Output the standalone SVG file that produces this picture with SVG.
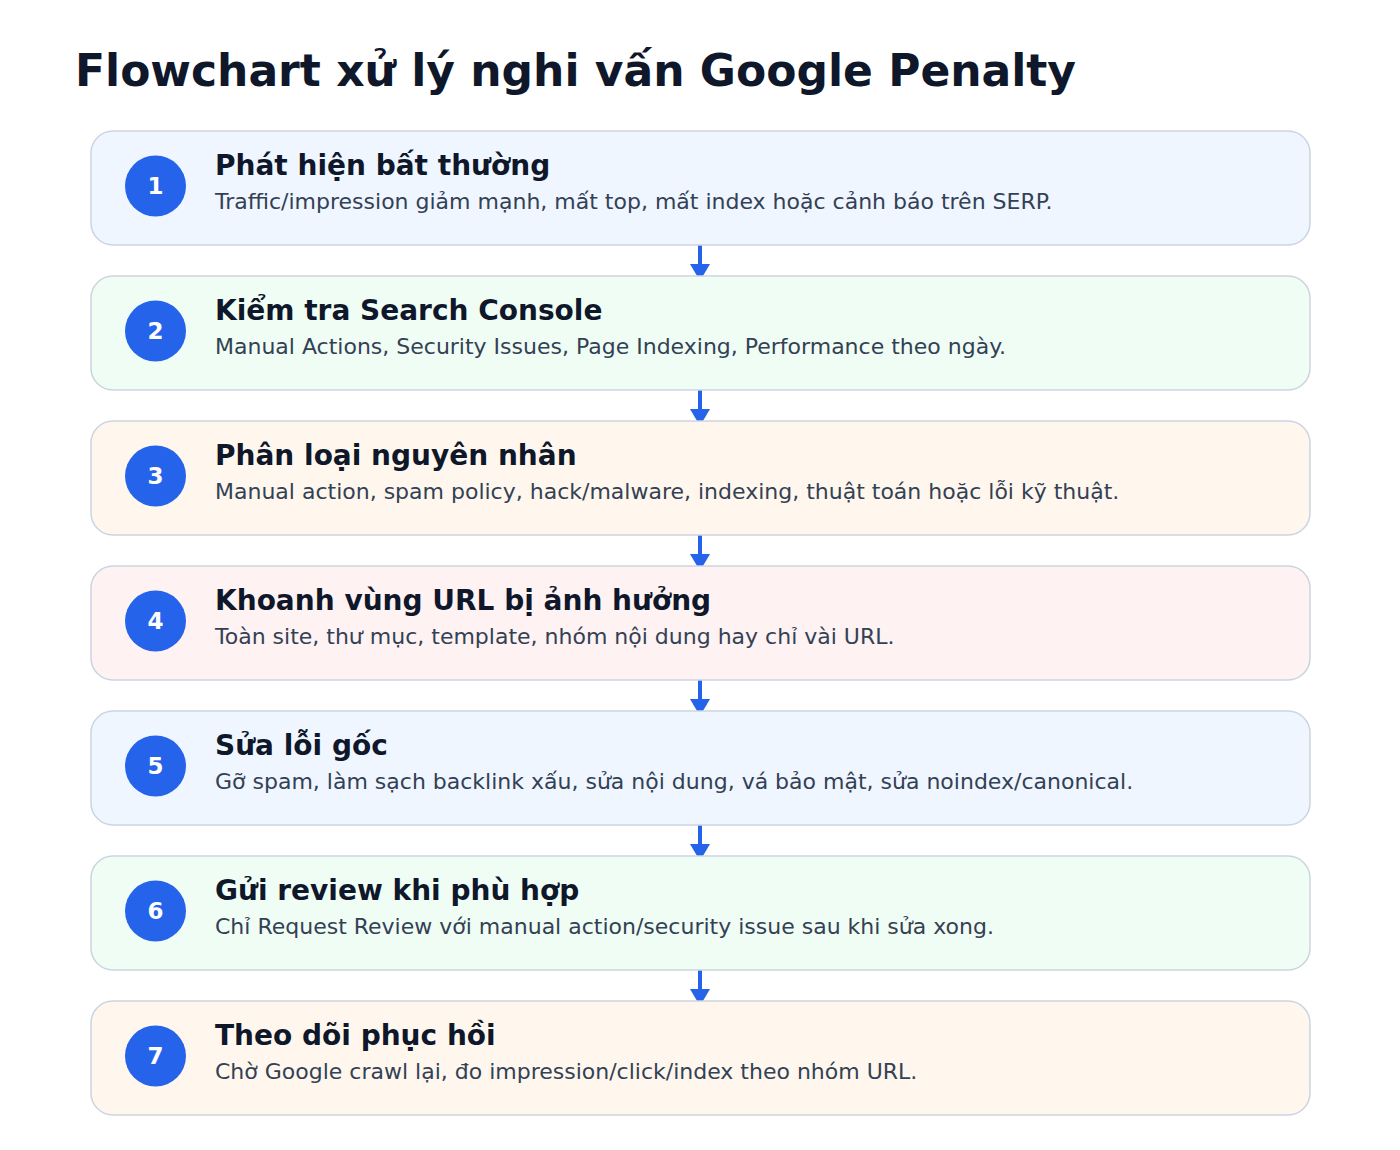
<svg xmlns="http://www.w3.org/2000/svg" width="1400" height="1150" viewBox="0 0 1400 1150">
<defs>
<style>
.title{font-family:"DejaVu Sans",sans-serif;font-weight:bold;font-size:44px;fill:#0f172a}
.box{stroke:#cbd5e1;stroke-width:1.5}
.b1{fill:#eff6ff}.b2{fill:#f0fdf4}.b3{fill:#fff7ed}.b4{fill:#fef2f2}
.circ{fill:#2563eb}
.num{font-family:"DejaVu Sans",sans-serif;font-weight:bold;font-size:23px;fill:#ffffff;text-anchor:middle}
.h{font-family:"DejaVu Sans",sans-serif;font-weight:bold;font-size:28px;fill:#0f172a}
.d{font-family:"DejaVu Sans",sans-serif;font-size:22px;fill:#334155}
.conn{stroke:#2563eb;stroke-width:4;fill:none}
.head{fill:#2563eb}
</style>
</defs>
<rect width="1400" height="1150" fill="#ffffff"/>
<text class="title" x="75" y="86">Flowchart xử lý nghi vấn Google Penalty</text>
<g id="connectors">
<line class="conn" x1="700" y1="245" x2="700" y2="266"/><polygon class="head" points="690,264 710,264 700,281"/>
<line class="conn" x1="700" y1="390" x2="700" y2="411"/><polygon class="head" points="690,409 710,409 700,426"/>
<line class="conn" x1="700" y1="535" x2="700" y2="556"/><polygon class="head" points="690,554 710,554 700,571"/>
<line class="conn" x1="700" y1="680" x2="700" y2="701"/><polygon class="head" points="690,699 710,699 700,716"/>
<line class="conn" x1="700" y1="825" x2="700" y2="846"/><polygon class="head" points="690,844 710,844 700,861"/>
<line class="conn" x1="700" y1="970" x2="700" y2="991"/><polygon class="head" points="690,989 710,989 700,1006"/>
</g>
<g id="node1">
<rect class="box b1" x="91" y="131" width="1219" height="114" rx="22"/>
<circle class="circ" cx="155.5" cy="186" r="30.5"/>
<text class="num" x="155.5" y="194">1</text>
<text class="h" x="215" y="175">Phát hiện bất thường</text>
<text class="d" x="215" y="209">Traffic/impression giảm mạnh, mất top, mất index hoặc cảnh báo trên SERP.</text>
</g>
<g id="node2">
<rect class="box b2" x="91" y="276" width="1219" height="114" rx="22"/>
<circle class="circ" cx="155.5" cy="331" r="30.5"/>
<text class="num" x="155.5" y="339">2</text>
<text class="h" x="215" y="320">Kiểm tra Search Console</text>
<text class="d" x="215" y="354">Manual Actions, Security Issues, Page Indexing, Performance theo ngày.</text>
</g>
<g id="node3">
<rect class="box b3" x="91" y="421" width="1219" height="114" rx="22"/>
<circle class="circ" cx="155.5" cy="476" r="30.5"/>
<text class="num" x="155.5" y="484">3</text>
<text class="h" x="215" y="465">Phân loại nguyên nhân</text>
<text class="d" x="215" y="499">Manual action, spam policy, hack/malware, indexing, thuật toán hoặc lỗi kỹ thuật.</text>
</g>
<g id="node4">
<rect class="box b4" x="91" y="566" width="1219" height="114" rx="22"/>
<circle class="circ" cx="155.5" cy="621" r="30.5"/>
<text class="num" x="155.5" y="629">4</text>
<text class="h" x="215" y="610">Khoanh vùng URL bị ảnh hưởng</text>
<text class="d" x="215" y="644">Toàn site, thư mục, template, nhóm nội dung hay chỉ vài URL.</text>
</g>
<g id="node5">
<rect class="box b1" x="91" y="711" width="1219" height="114" rx="22"/>
<circle class="circ" cx="155.5" cy="766" r="30.5"/>
<text class="num" x="155.5" y="774">5</text>
<text class="h" x="215" y="755">Sửa lỗi gốc</text>
<text class="d" x="215" y="789">Gỡ spam, làm sạch backlink xấu, sửa nội dung, vá bảo mật, sửa noindex/canonical.</text>
</g>
<g id="node6">
<rect class="box b2" x="91" y="856" width="1219" height="114" rx="22"/>
<circle class="circ" cx="155.5" cy="911" r="30.5"/>
<text class="num" x="155.5" y="919">6</text>
<text class="h" x="215" y="900">Gửi review khi phù hợp</text>
<text class="d" x="215" y="934">Chỉ Request Review với manual action/security issue sau khi sửa xong.</text>
</g>
<g id="node7">
<rect class="box b3" x="91" y="1001" width="1219" height="114" rx="22"/>
<circle class="circ" cx="155.5" cy="1056" r="30.5"/>
<text class="num" x="155.5" y="1064">7</text>
<text class="h" x="215" y="1045">Theo dõi phục hồi</text>
<text class="d" x="215" y="1079">Chờ Google crawl lại, đo impression/click/index theo nhóm URL.</text>
</g>
</svg>
